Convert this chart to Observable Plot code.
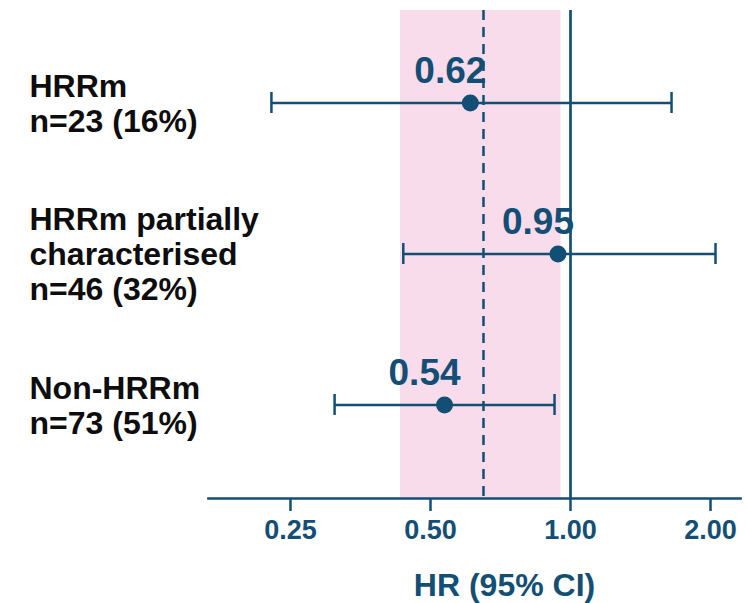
<!DOCTYPE html>
<html><head><meta charset="utf-8">
<script src="https://cdn.jsdelivr.net/npm/d3@7"></script>
<script src="https://cdn.jsdelivr.net/npm/@observablehq/plot@0.6"></script>
<style>body{margin:0;background:#fff;}</style>
</head><body><div id="chart"></div>
<script>
const groups = ["HRRm\nn=23 (16%)", "HRRm partially\ncharacterised\nn=46 (32%)", "Non-HRRm\nn=73 (51%)"];
const hr = [0.609, 0.94, 0.536];
const lower = [0.2275, 0.437, 0.311];
const upper = [1.649, 2.05, 0.924];
const hrText = ["0.62", "0.95", "0.54"];
const xTicks = [0.25, 0.5, 1, 2];
const bandRange = [0.431, 0.954];
const pooledHR = 0.65;
const nullHR = 1;
const xLabel = "HR (95% CI)";

const navy = "#134e74";
const pink = "#f9dcec";
const rows = groups.map((g, i) => ({g, hr: hr[i], lo: lower[i], hi: upper[i], t: hrText[i]}));

const chart = Plot.plot({
  width: 748, height: 603,
  marginLeft: 208, marginRight: 8, marginTop: 10, marginBottom: 105,
  style: {fontFamily: "'Liberation Sans', Arial, sans-serif", background: "#fff"},
  x: {type: "log", domain: [0.1666, 2.32]},
  y: {type: "band", domain: groups, padding: 0, insetTop: 16, insetBottom: 17, axis: null},
  marks: [
    Plot.rect([{a: bandRange[0], b: bandRange[1]}], {x1: "a", x2: "b", fill: pink}),
    Plot.ruleX([pooledHR], {stroke: navy, strokeWidth: 2.5, strokeDasharray: "10,7"}),
    Plot.ruleX([nullHR], {stroke: navy, strokeWidth: 2.7}),
    Plot.ruleY(rows, {y: "g", x1: "lo", x2: "hi", stroke: navy, strokeWidth: 2.5}),
    Plot.tickX(rows, {x: "lo", y: "g", stroke: navy, strokeWidth: 2.5, insetTop: 65, insetBottom: 65}),
    Plot.tickX(rows, {x: "hi", y: "g", stroke: navy, strokeWidth: 2.5, insetTop: 65, insetBottom: 65}),
    Plot.dot(rows, {x: "hr", y: "g", r: 8.5, fill: navy, stroke: "none"}),
    Plot.text(rows, {x: "hr", y: "g", text: "t", dx: -20, dy: -20, lineAnchor: "bottom", textAnchor: "middle",
      fontSize: 37, fontWeight: "bold", fill: navy}),
    Plot.text(rows, {y: "g", text: "g", frameAnchor: "left", dx: -179, textAnchor: "start", lineAnchor: "middle",
      lineHeight: 1.1, fontSize: 32, fontWeight: "bold", fill: "#0d0d0d"}),
    Plot.frame({anchor: "bottom", stroke: navy, strokeWidth: 2.7}),
    Plot.axisX(xTicks, {tickFormat: d3.format(".2f"), tickSize: 13, tickPadding: 8, fontSize: 27,
      fontWeight: "bold", color: navy, strokeWidth: 2.5, label: null}),
    Plot.text([xLabel], {frameAnchor: "bottom", dx: 30, dy: 97, lineAnchor: "bottom", textAnchor: "middle",
      fontSize: 32, fontWeight: "bold", fill: navy})
  ]
});
document.getElementById("chart").appendChild(chart);
</script>
</body></html>
